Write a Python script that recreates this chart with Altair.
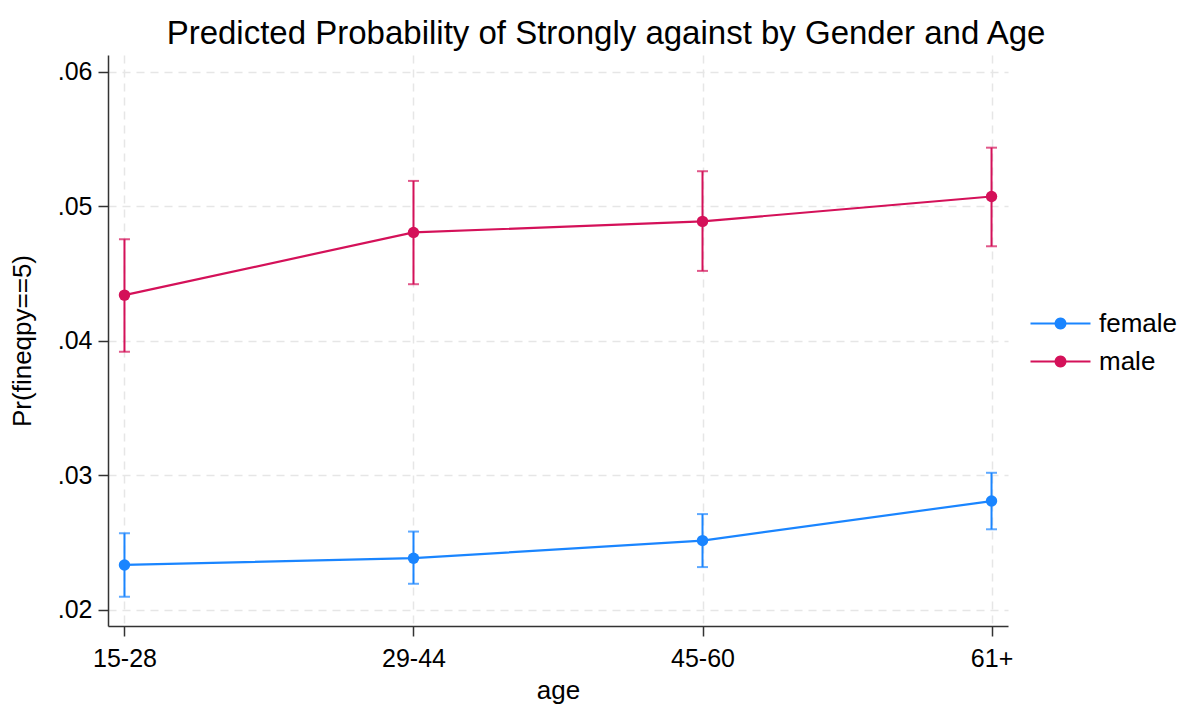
import math
import altair as alt
import pandas as pd

ages = ["15-28", "29-44", "45-60", "61+"]
genders = ["female", "male"]
female_pt = [0.02335, 0.02385, 0.02516, 0.02810]
female_hi = [0.02570, 0.02583, 0.02713, 0.03020]
female_lo = [0.02099, 0.02195, 0.02319, 0.02600]
male_pt = [0.04341, 0.04807, 0.04889, 0.05074]
male_hi = [0.04756, 0.05190, 0.05262, 0.05437]
male_lo = [0.03919, 0.04422, 0.04521, 0.04704]
y_ticks = [0.02, 0.03, 0.04, 0.05, 0.06]
colors = ["#1a85ff", "#d41159"]

rows = []
for i, a in enumerate(ages):
    rows.append({"age": a, "gender": "female", "p": female_pt[i], "hi": female_hi[i], "lo": female_lo[i]})
    rows.append({"age": a, "gender": "male", "p": male_pt[i], "hi": male_hi[i], "lo": male_lo[i]})
df = pd.DataFrame(rows)

FONT = "Liberation Sans"
ydom = [0.01881, 0.06126]

x = alt.X("age:N", sort=ages, title="age",
          scale=alt.Scale(type="point", padding=0.057),
          axis=alt.Axis(labelAngle=0, grid=True))
y = alt.Y("p:Q", title="Pr(fineqpy==5)",
          scale=alt.Scale(domain=ydom, nice=False, zero=False),
          axis=alt.Axis(values=y_ticks, labelExpr="substring(format(datum.value, '.2f'), 1)", grid=True))
cscale = alt.Scale(domain=genders, range=colors)

base = alt.Chart(df)

rules = base.mark_rule(strokeWidth=2).encode(
    x=x, y=alt.Y("lo:Q", scale=alt.Scale(domain=ydom, nice=False, zero=False)), y2="hi:Q",
    color=alt.Color("gender:N", scale=cscale, legend=None))
caps_hi = base.mark_tick(size=11, thickness=2).encode(
    x=x, y=alt.Y("hi:Q"), color=alt.Color("gender:N", scale=cscale, legend=None))
caps_lo = base.mark_tick(size=11, thickness=2).encode(
    x=x, y=alt.Y("lo:Q"), color=alt.Color("gender:N", scale=cscale, legend=None))
lines = base.mark_line(strokeWidth=2.2).encode(
    x=x, y=y, color=alt.Color("gender:N", scale=cscale, legend=None))

# legend glyph: thin bar with a dot in the middle (filled-only path)
SYM_SIZE = 2400
half = math.sqrt(SYM_SIZE) / 2.0
L = 30.0 / half
r = 6.0 / half
t = 1.1 / half
circ = "M" + "L".join(f"{r*math.cos(2*math.pi*k/24):.4f},{r*math.sin(2*math.pi*k/24):.4f}" for k in range(24)) + "Z"
bar = f"M{-L:.4f},{-t:.4f}L{L:.4f},{-t:.4f}L{L:.4f},{t:.4f}L{-L:.4f},{t:.4f}Z"
sym = bar + circ

leg = alt.Legend(title=None, orient="none", legendX=928, legendY=244,
                 symbolType=sym, symbolSize=SYM_SIZE, symbolStrokeWidth=0,
                 labelFont=FONT, labelFontSize=26, labelColor="#000000",
                 labelOffset=14, rowPadding=0)
points = base.mark_point(filled=True, size=130, opacity=1).encode(
    x=x, y=y,
    color=alt.Color("gender:N", scale=cscale, legend=leg))

chart = alt.layer(rules, caps_hi, caps_lo, lines, points).resolve_legend(
    color="independent"
).properties(
    width=900, height=571,
    title=alt.TitleParams("Predicted Probability of Strongly against by Gender and Age",
                          font=FONT, fontSize=33, fontWeight="normal", color="#000000",
                          anchor="middle", dx=48, offset=4),
    autosize=alt.AutoSizeParams(type="none"),
    padding={"left": 100, "top": 47, "right": 170, "bottom": 81},
).configure_view(stroke=None).configure_axis(
    labelFont=FONT, labelFontSize=25, labelColor="#000000",
    titleFont=FONT, titleFontSize=26, titleColor="#000000", titleFontWeight="normal",
    domainColor="#333333", domainWidth=1.5, tickColor="#333333", tickWidth=1.5, tickSize=10,
    gridColor="#e6e6e6", gridDash=[8, 6], gridWidth=1.5, labelPadding=6,
).configure_axisX(titlePadding=6, labelPadding=10).configure_axisY(titlePadding=22)

chart.save("out.html", embed_options={"renderer": "svg", "actions": False})
